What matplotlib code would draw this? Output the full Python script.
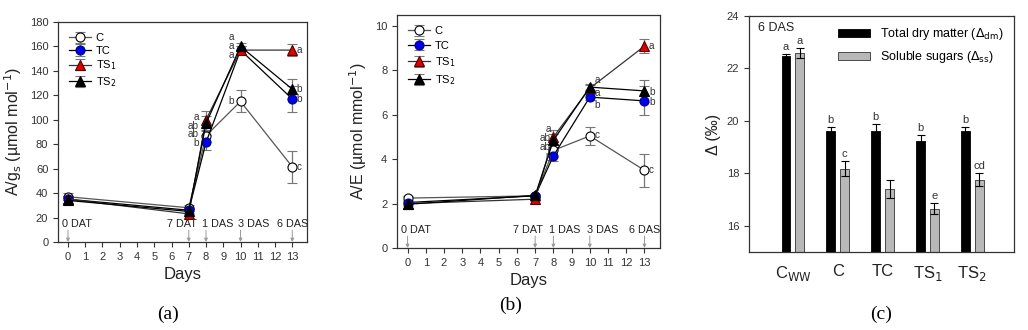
import matplotlib
matplotlib.use("Agg")
import matplotlib.pyplot as plt
import numpy as np

plt.rcParams['font.family'] = ['Liberation Sans', 'DejaVu Sans']

### dados
days = [0, 7, 8, 10, 13]
stage_labels = ['0 DAT', '7 DAT', '1 DAS', '3 DAS', '6 DAS']
series = ['C', 'TC', 'TS$_1$', 'TS$_2$']

ags_C = [37, 28, 87, 115, 61.5]
ags_TC = [35, 26, 81.5, 157, 117]
ags_TS1 = [35, 23, 100, 157, 157]
ags_TS2 = [34, 25, 97, 160, 125]
ags_err_C = [3, 2, 5, 9, 13]
ags_err_TC = [3, 2, 6, 3, 11]
ags_err_TS1 = [3, 2, 7, 3, 5]
ags_err_TS2 = [3, 2, 6, 3, 8]

ae_C = [2.25, 2.35, 4.4, 5.05, 3.5]
ae_TC = [2.05, 2.35, 4.15, 6.8, 6.63]
ae_TS1 = [2.0, 2.2, 5.0, 7.2, 9.1]
ae_TS2 = [1.97, 2.37, 4.85, 7.25, 7.08]
ae_err_C = [0.08, 0.08, 0.3, 0.4, 0.75]
ae_err_TC = [0.08, 0.08, 0.25, 0.15, 0.65]
ae_err_TS1 = [0.08, 0.08, 0.3, 0.15, 0.3]
ae_err_TS2 = [0.08, 0.08, 0.3, 0.15, 0.5]

treat = ['C$_\\mathrm{WW}$', 'C', 'TC', 'TS$_1$', 'TS$_2$']
dm = [22.47, 19.62, 19.6, 19.25, 19.62]
dm_err = [0.08, 0.15, 0.27, 0.2, 0.15]
ss = [22.58, 18.18, 17.4, 16.65, 17.75]
ss_err = [0.2, 0.28, 0.35, 0.2, 0.25]
dm_letters = ['a', 'b', 'b', 'b', 'b']
ss_letters = ['a', 'c', '', 'e', 'cd']

estilos = [
    dict(marker='o', mfc='white', mec='black', color='#555555'),
    dict(marker='o', mfc='#0000ee', mec='#000080', color='black'),
    dict(marker='^', mfc='#dd0000', mec='#550000', color='#333333'),
    dict(marker='^', mfc='black', mec='black', color='black'),
]

fig = plt.figure(figsize=(10.28, 3.3), dpi=100)
ax1 = fig.add_axes([0.0564, 0.2667, 0.2422, 0.6667])
ax2 = fig.add_axes([0.3862, 0.2485, 0.2558, 0.706])
ax3 = fig.add_axes([0.7286, 0.2364, 0.2578, 0.7152])

# posicao/alinhamento dos rotulos de fase
stage_x = [-0.35, 7.45, 7.75, 9.85, 13]
stage_ha = ['left', 'right', 'left', 'left', 'center']

def linhas(ax, vals, errs, ylim, yticks, ylabel, seta, lspace):
    for v, e, nome, st in zip(vals, errs, series, estilos):
        ax.errorbar(days, v, yerr=e, label=nome, marker=st['marker'], ms=6.5,
                    mfc=st['mfc'], mec=st['mec'], mew=0.8, color=st['color'], lw=0.9,
                    ecolor='#777777', elinewidth=0.9, capsize=3.5, capthick=0.9)
    ax.set_xlim(-0.58, 13.85)
    ax.set_ylim(*ylim)
    ax.set_xticks(range(14))
    ax.set_yticks(yticks)
    ax.tick_params(labelsize=8, colors='#333333', direction='out', length=3.5, width=0.8)
    ax.set_xlabel('Days', fontsize=12, color='#222222')
    ax.set_ylabel(ylabel, fontsize=11.5, color='#222222')
    for d, lab, sx, ha in zip(days, stage_labels, stage_x, stage_ha):
        ax.text(sx, seta * 1.3, lab, ha=ha, va='bottom', fontsize=7.8, color='#222222')
        ax.annotate('', xy=(d, 0), xytext=(d, seta * 1.2),
                    arrowprops=dict(arrowstyle='-|>', color='#999999', lw=0.7,
                                    mutation_scale=5, shrinkA=0, shrinkB=0))
    for s in ax.spines.values():
        s.set_linewidth(0.9)
        s.set_color('#333333')
    ax.legend(loc='upper left', frameon=False, fontsize=8, handlelength=2.0,
              borderaxespad=0.6, labelspacing=lspace, handletextpad=0.4)

linhas(ax1, [ags_C, ags_TC, ags_TS1, ags_TS2],
       [ags_err_C, ags_err_TC, ags_err_TS1, ags_err_TS2],
       (0, 180), range(0, 181, 20), 'A/g$_\\mathrm{s}$ (µmol mol$^{-1}$)', 8, 0.25)
linhas(ax2, [ae_C, ae_TC, ae_TS1, ae_TS2],
       [ae_err_C, ae_err_TC, ae_err_TS1, ae_err_TS2],
       (0, 10.5), range(0, 11, 2), 'A/E (µmol mmol$^{-1}$)', 0.45, 0.4)

# letras de significancia
letras_a = [('a', 7.6, 102, 'right'), ('ab', 7.6, 95, 'right'), ('ab', 7.6, 88, 'right'),
            ('b', 7.6, 81, 'right'), ('a', 9.6, 168, 'right'), ('a', 9.6, 160.5, 'right'),
            ('a', 9.6, 153, 'right'), ('b', 9.6, 115, 'right'),
            ('a', 13.25, 157, 'left'), ('b', 13.25, 125, 'left'), ('b', 13.25, 117, 'left'),
            ('c', 13.25, 61.5, 'left')]
letras_b = [('a', 7.85, 5.35, 'right'), ('ab', 7.85, 4.95, 'right'), ('ab', 7.85, 4.55, 'right'),
            ('b', 7.85, 4.05, 'right'), ('a', 10.25, 7.57, 'left'), ('a', 10.25, 7.0, 'left'),
            ('b', 10.25, 6.44, 'left'), ('c', 10.25, 5.1, 'left'),
            ('a', 13.25, 9.1, 'left'), ('b', 13.25, 7.02, 'left'), ('b', 13.25, 6.6, 'left'),
            ('c', 13.25, 3.5, 'left')]
for ax, letras in [(ax1, letras_a), (ax2, letras_b)]:
    for t, x, y, ha in letras:
        ax.text(x, y, t, ha=ha, va='center', fontsize=7.2, color='#333333')

# painel c
x = np.arange(len(treat))
w = 0.2
ax3.bar(x - 0.155, dm, w, color='black', edgecolor='black', lw=0.6,
        yerr=dm_err, error_kw=dict(ecolor='black', elinewidth=0.8, capsize=3, capthick=0.8),
        label='Total dry matter ($\\Delta_\\mathrm{dm}$)')
ax3.bar(x + 0.155, ss, w, color='#b8b8b8', edgecolor='#333333', lw=0.6,
        yerr=ss_err, error_kw=dict(ecolor='black', elinewidth=0.8, capsize=3, capthick=0.8),
        label='Soluble sugars ($\\Delta_\\mathrm{ss}$)')
for i in range(len(treat)):
    ax3.text(x[i] - 0.155, dm[i] + dm_err[i] + 0.08, dm_letters[i], ha='center', va='bottom',
             fontsize=8, color='#333333')
    ax3.text(x[i] + 0.155, ss[i] + ss_err[i] + 0.08, ss_letters[i], ha='center', va='bottom',
             fontsize=8, color='#333333')
ax3.set_ylim(15, 24)
ax3.set_xlim(-0.98, 4.93)
ax3.set_yticks([16, 18, 20, 22, 24])
ax3.set_xticks(x)
ax3.set_xticklabels(treat, fontsize=12, color='#222222')
ax3.tick_params(axis='x', length=0, pad=9)
ax3.tick_params(axis='y', labelsize=8, colors='#333333', length=3.5, width=0.8)
ax3.set_ylabel('Δ (‰)', fontsize=11.5, color='#222222')
ax3.text(0.035, 0.975, '6 DAS', transform=ax3.transAxes, ha='left', va='top', fontsize=9,
         color='#222222')
ax3.legend(loc='upper right', frameon=False, fontsize=9, handlelength=2.6, handleheight=0.6,
           borderaxespad=0.4, labelspacing=0.6)
for s in ax3.spines.values():
    s.set_linewidth(0.9)
    s.set_color('#333333')

fig.text(0.163, 0.02, '(a)', ha='center', va='bottom', fontsize=14, family='Liberation Serif')
fig.text(0.497, 0.05, '(b)', ha='center', va='bottom', fontsize=14, family='Liberation Serif')
fig.text(0.857, 0.02, '(c)', ha='center', va='bottom', fontsize=14, family='Liberation Serif')

fig.savefig('out.png', dpi=100)
